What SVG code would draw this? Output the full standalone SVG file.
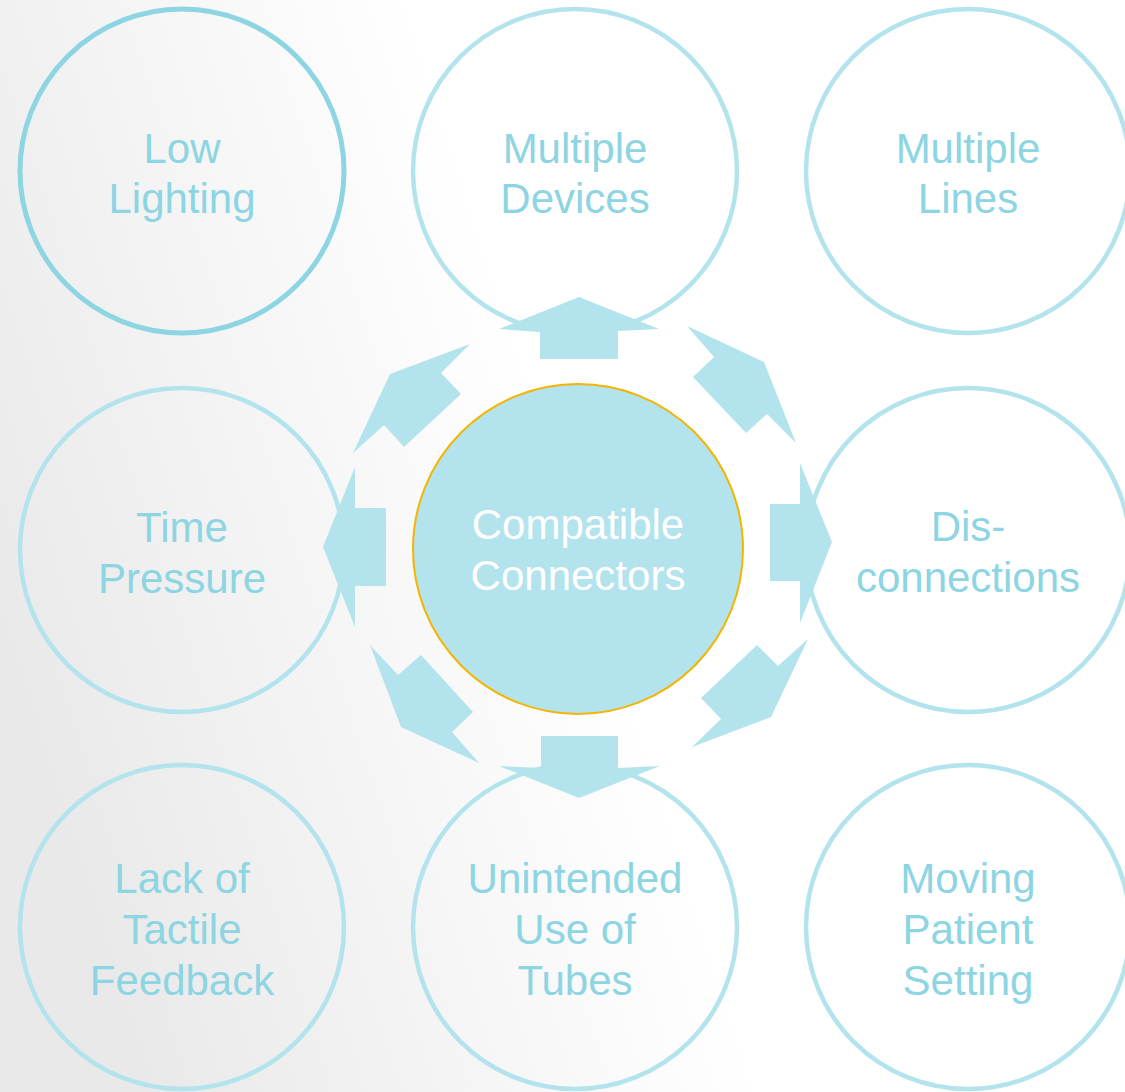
<svg xmlns="http://www.w3.org/2000/svg" width="1125" height="1092" viewBox="0 0 1125 1092">
  <defs>
    <linearGradient id="bg" gradientUnits="userSpaceOnUse" x1="0" y1="650" x2="560" y2="470">
      <stop offset="0" stop-color="#e9e9e9"/>
      <stop offset="1" stop-color="#ffffff"/>
    </linearGradient>
    <style>
      .ring { fill: none; stroke: #b3e3ec; stroke-width: 4.5; }
      .ring.strong { stroke: #8dd5e2; stroke-width: 5; }
      .hub { fill: #b3e3ec; stroke: #f5b400; stroke-width: 2; }
      .label { font-family: "Liberation Sans", Arial, sans-serif; font-size: 42px; fill: #8dd5e2; text-anchor: middle; }
      .hub-label { font-family: "Liberation Sans", Arial, sans-serif; font-size: 42px; fill: #ffffff; text-anchor: middle; }
      .arrow { fill: #b3e3ec; }
    </style>
  </defs>

  <rect width="1125" height="1092" fill="url(#bg)"/>

  <!-- outer nodes -->
  <g id="node-low-lighting">
    <circle class="ring strong" cx="182" cy="171" r="162"/>
    <text class="label"><tspan x="182" y="163">Low</tspan><tspan x="182" y="213">Lighting</tspan></text>
  </g>
  <g id="node-multiple-devices">
    <circle class="ring" cx="575" cy="171" r="162"/>
    <text class="label"><tspan x="575" y="163">Multiple</tspan><tspan x="575" y="213">Devices</tspan></text>
  </g>
  <g id="node-multiple-lines">
    <circle class="ring" cx="968" cy="171" r="162"/>
    <text class="label"><tspan x="968" y="163">Multiple</tspan><tspan x="968" y="213">Lines</tspan></text>
  </g>
  <g id="node-time-pressure">
    <circle class="ring" cx="182" cy="550" r="162"/>
    <text class="label"><tspan x="182" y="542">Time</tspan><tspan x="182" y="593">Pressure</tspan></text>
  </g>
  <g id="node-disconnections">
    <circle class="ring" cx="968" cy="550" r="162"/>
    <text class="label"><tspan x="968" y="541">Dis-</tspan><tspan x="968" y="592">connections</tspan></text>
  </g>
  <g id="node-lack-of-tactile-feedback">
    <circle class="ring" cx="182" cy="927" r="162"/>
    <text class="label"><tspan x="182" y="893">Lack of</tspan><tspan x="182" y="944">Tactile</tspan><tspan x="182" y="995">Feedback</tspan></text>
  </g>
  <g id="node-unintended-use-of-tubes">
    <circle class="ring" cx="575" cy="927" r="162"/>
    <text class="label"><tspan x="575" y="893">Unintended</tspan><tspan x="575" y="944">Use of</tspan><tspan x="575" y="995">Tubes</tspan></text>
  </g>
  <g id="node-moving-patient-setting">
    <circle class="ring" cx="968" cy="927" r="162"/>
    <text class="label"><tspan x="968" y="893">Moving</tspan><tspan x="968" y="944">Patient</tspan><tspan x="968" y="995">Setting</tspan></text>
  </g>

  <!-- central node -->
  <g id="node-compatible-connectors">
    <circle class="hub" cx="578" cy="549" r="165"/>
    <text class="hub-label"><tspan x="578" y="539">Compatible</tspan><tspan x="578" y="590">Connectors</tspan></text>
  </g>

  <!-- diverging block arrows -->
  <g id="connectors">
    <polygon class="arrow" points="579,297 659,329 618,331 618,359 540,359 540,332 499,329"/>
    <polygon class="arrow" points="687,326 764,362 796,443 767,414 746,433 693,377 714,357"/>
    <polygon class="arrow" points="832,542 800,623 800,581 770,581 770,504 800,504 800,463"/>
    <polygon class="arrow" points="808,639 771,717 692,747 721,719 701,698 757,645 778,666"/>
    <polygon class="arrow" points="579,798 660,766 618,768 618,736 541,736 541,768 499,766"/>
    <polygon class="arrow" points="401,727 479,763 452,732 473,712 421,655 398,675 370,645"/>
    <polygon class="arrow" points="323,547 355,627 355,586 386,586 386,508 355,508 355,467"/>
    <polygon class="arrow" points="390,374 470,344 441,373 461,394 404,447 384,425 353,453"/>
  </g>
</svg>
